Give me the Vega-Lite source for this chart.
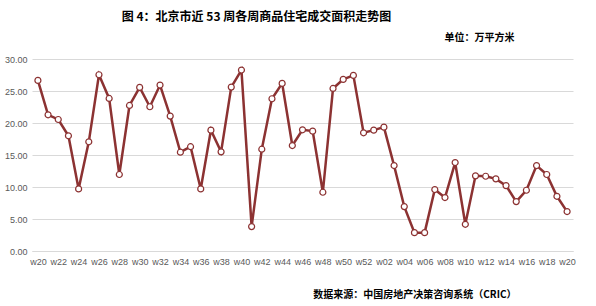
{
  "$schema": "https://vega.github.io/schema/vega-lite/v6.json",
  "autosize": {"type": "none"},
  "width": 541,
  "height": 192,
  "padding": {"left": 32, "top": 59, "right": 23, "bottom": 55},
  "background": "white",
  "title": {
    "text": "图 4：北京市近 53 周各周商品住宅成交面积走势图",
    "font": "Noto Sans CJK SC",
    "fontSize": 12,
    "fontWeight": "bold",
    "color": "#000000",
    "anchor": "middle",
    "frame": "group",
    "dx": -46,
    "offset": 8
  },
  "config": {"view": {"stroke": null}},
  "data": {
    "values": [
      {"k": "a-w20", "v": 26.66}, {"k": "a-w21", "v": 21.28}, {"k": "a-w22", "v": 20.55}, {"k": "a-w23", "v": 18.0},
      {"k": "a-w24", "v": 9.7}, {"k": "a-w25", "v": 17.06}, {"k": "a-w26", "v": 27.54}, {"k": "a-w27", "v": 23.84},
      {"k": "a-w28", "v": 11.95}, {"k": "a-w29", "v": 22.74}, {"k": "a-w30", "v": 25.56}, {"k": "a-w31", "v": 22.54},
      {"k": "a-w32", "v": 25.93}, {"k": "a-w33", "v": 21.08}, {"k": "a-w34", "v": 15.44}, {"k": "a-w35", "v": 16.3},
      {"k": "a-w36", "v": 9.7}, {"k": "a-w37", "v": 18.88}, {"k": "a-w38", "v": 15.49}, {"k": "a-w39", "v": 25.61},
      {"k": "a-w40", "v": 28.27}, {"k": "a-w41", "v": 3.81}, {"k": "a-w42", "v": 15.91}, {"k": "a-w43", "v": 23.79},
      {"k": "a-w44", "v": 26.19}, {"k": "a-w45", "v": 16.48}, {"k": "a-w46", "v": 18.94}, {"k": "a-w47", "v": 18.73},
      {"k": "a-w48", "v": 9.18}, {"k": "a-w49", "v": 25.4}, {"k": "a-w50", "v": 26.81}, {"k": "a-w51", "v": 27.44},
      {"k": "a-w52", "v": 18.47}, {"k": "b-w01", "v": 18.88}, {"k": "b-w02", "v": 19.35}, {"k": "b-w03", "v": 13.35},
      {"k": "b-w04", "v": 6.94}, {"k": "b-w05", "v": 2.87}, {"k": "b-w06", "v": 2.87}, {"k": "b-w07", "v": 9.6},
      {"k": "b-w08", "v": 8.35}, {"k": "b-w09", "v": 13.82}, {"k": "b-w10", "v": 4.17}, {"k": "b-w11", "v": 11.74},
      {"k": "b-w12", "v": 11.68}, {"k": "b-w13", "v": 11.27}, {"k": "b-w14", "v": 10.22}, {"k": "b-w15", "v": 7.72},
      {"k": "b-w16", "v": 9.49}, {"k": "b-w17", "v": 13.35}, {"k": "b-w18", "v": 11.95}, {"k": "b-w19", "v": 8.55},
      {"k": "b-w20", "v": 6.16}
    ]
  },
  "encoding": {
    "x": {
      "field": "k",
      "type": "ordinal",
      "sort": null,
      "scale": {"type": "point", "padding": 0.58},
      "axis": {
        "title": "数据来源：中国房地产决策咨询系统（CRIC）",
        "titleFont": "Noto Sans CJK SC",
        "titleFontSize": 10,
        "titleFontWeight": "bold",
        "titleColor": "#000000",
        "titleAnchor": null,
        "titleAlign": "right",
        "titleBaseline": "middle",
        "titleX": 484,
        "titleY": 43,
        "labelExpr": "parseInt(substring(datum.label, 3)) % 2 == 0 ? substring(datum.label, 2) : ''",
        "labelAngle": 0,
        "labelFont": "Liberation Sans",
        "labelFontSize": 9,
        "labelColor": "#595959",
        "labelPadding": 6,
        "ticks": false,
        "domain": true,
        "domainColor": "#d9d9d9",
        "grid": false
      }
    },
    "y": {
      "field": "v",
      "type": "quantitative",
      "scale": {"domain": [0, 30]},
      "axis": {
        "values": [0, 5, 10, 15, 20, 25, 30],
        "format": ".2f",
        "title": "单位：万平方米",
        "titleFont": "Noto Sans CJK SC",
        "titleFontSize": 10,
        "titleFontWeight": "bold",
        "titleColor": "#000000",
        "titleAngle": 0,
        "titleAnchor": null,
        "titleAlign": "right",
        "titleBaseline": "middle",
        "titleX": 482,
        "titleY": -22,
        "labelFont": "Liberation Sans",
        "labelFontSize": 9,
        "labelColor": "#595959",
        "labelPadding": 5,
        "ticks": false,
        "domain": false,
        "grid": true,
        "gridColor": "#d9d9d9",
        "gridWidth": 1
      }
    }
  },
  "layer": [
    {"mark": {"type": "line", "color": "#8c3232", "strokeWidth": 2.5}},
    {"mark": {"type": "point", "filled": true, "fill": "white", "stroke": "#8c3232", "strokeWidth": 1.2, "size": 36, "opacity": 1}}
  ]
}
